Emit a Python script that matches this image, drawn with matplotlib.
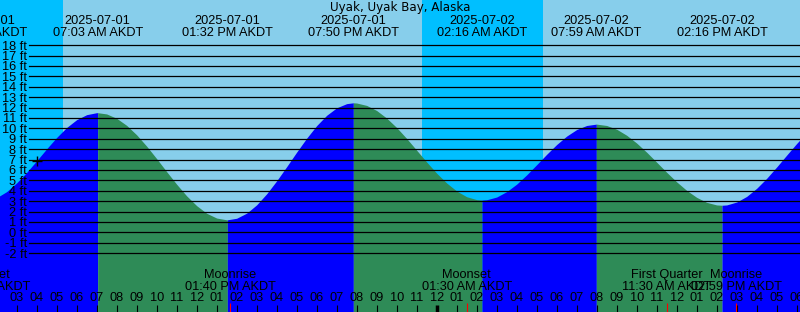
import matplotlib
matplotlib.use('Agg')
import matplotlib.pyplot as plt
import matplotlib.dates as mdates
import matplotlib.transforms as mtransforms
import pandas as pd

station = 'Uyak, Uyak Bay, Alaska'
zone = 'AKDT'

# heights every half hour, 2025-07-01 02:00 .. 2025-07-02 19:00
curve_start = '2025-07-01 02:00'
curve_ft = [3.33, 3.91, 4.75, 5.76, 6.88, 8.03, 9.12, 10.08, 10.83, 11.31,
            11.50, 11.38, 10.96, 10.28, 9.37, 8.28, 7.08, 5.83, 4.62, 3.50,
            2.56, 1.83, 1.37, 1.20, 1.35, 1.84, 2.64, 3.70, 4.95, 6.31,
            7.71, 9.05, 10.26, 11.25, 11.97, 12.37, 12.43, 12.20, 11.71, 10.98,
            10.07, 9.02, 7.89, 6.76, 5.68, 4.74, 3.97, 3.42, 3.14, 3.13,
            3.39, 3.91, 4.63, 5.52, 6.50, 7.50, 8.44, 9.25, 9.88, 10.27,
            10.40, 10.27, 9.91, 9.33, 8.58, 7.70, 6.74, 5.77, 4.85, 4.03,
            3.36, 2.88, 2.63, 2.63, 2.91, 3.45, 4.23, 5.19, 6.28, 7.42,
            8.54, 9.58, 10.46]

# high and low tides
tide_when = ['2025-07-01 01:16', '2025-07-01 07:03', '2025-07-01 13:32',
             '2025-07-01 19:50', '2025-07-02 02:16', '2025-07-02 07:59',
             '2025-07-02 14:16']
tide_ft = [3.0, 11.5, 1.2, 12.45, 3.1, 10.4, 2.6]

sunrise = ['2025-07-01 05:19', '2025-07-02 05:19']
sunset = ['2025-07-01 23:16']

moon_when = ['2025-07-01 01:25', '2025-07-01 13:40', '2025-07-02 01:30',
             '2025-07-02 11:30', '2025-07-02 14:59']
moon_what = ['Moonset', 'Moonrise', 'Moonset', 'First Quarter', 'Moonrise']

now_when, now_ft = '2025-07-01 04:02', 6.9

view_from, view_to = '2025-07-01 02:10', '2025-07-02 18:10'
ft_levels = list(range(-2, 19))

day_sky = '#87CEEB'
night_sky = '#00BFFF'
rising = '#0000FF'
falling = '#2E8B57'

W, H = 800, 312
label_font = ['Liberation Sans', 'DejaVu Sans']
fs = 9.2


def ypx(p):
    # pixel row from the top -> axes fraction
    return 1 - p / H


halfhours = pd.date_range(curve_start, periods=len(curve_ft), freq='30min')
tides = pd.to_datetime(tide_when)
curve = pd.DataFrame({'t': list(halfhours) + list(tides),
                      'ft': curve_ft + tide_ft}).sort_values('t')
curve = curve.drop_duplicates('t').reset_index(drop=True)

t0, t1 = pd.Timestamp(view_from), pd.Timestamp(view_to)

fig = plt.figure(figsize=(W / 100, H / 100), dpi=100)
ax = fig.add_axes([0, 0, 1, 1])
ax.set_facecolor(day_sky)
for s in ax.spines.values():
    s.set_visible(False)

# night bands
night_start = [t0 - pd.Timedelta(hours=6)] + list(pd.to_datetime(sunset))
for a, b in zip(night_start, pd.to_datetime(sunrise)):
    ax.axvspan(a, b, color=night_sky, lw=0, zorder=0)

# water, blue while rising, green while falling
bottom = -12
marks = list(tides) + [curve['t'].iloc[-1]]
for i in range(len(marks) - 1):
    m = (curve['t'] >= marks[i]) & (curve['t'] <= marks[i + 1])
    seg = curve[m]
    col = rising if seg['ft'].iloc[-1] > seg['ft'].iloc[0] else falling
    ax.fill_between(seg['t'], seg['ft'], bottom, color=col, lw=0, zorder=1)

for v in ft_levels:
    ax.axhline(v, xmin=29 / W, color='black', lw=0.9, zorder=2)

ax.plot(pd.Timestamp(now_when), now_ft, marker='+', ms=7, mew=1,
        color='black', zorder=3)

ax.set_axisbelow(False)

# y labels inside the plot
ax.set_yticks(ft_levels)
ax.set_yticklabels([f'{v} ft' for v in ft_levels], family=label_font)
ax.tick_params(axis='y', length=0, pad=-19.5, labelsize=fs)

# hour ticks along the bottom
ticks = pd.date_range('2025-07-01 02:00', '2025-07-02 19:00', freq='h')
ax.set_xticks(ticks)
ax.set_xticklabels([f'{t:%I}' for t in ticks], family=label_font)
ax.set_xticks(pd.to_datetime(moon_when), minor=True)
ax.tick_params(axis='x', which='major', direction='in', length=5, width=0.8,
               color='black', pad=-14.5, labelsize=fs)
ax.tick_params(axis='x', which='minor', direction='in', length=6.5, width=0.8,
               color='red')
for t, tick in zip(ticks, ax.xaxis.get_major_ticks()):
    if t.hour == 0:
        tick.tick1line.set_markeredgewidth(2.5)

# limits last, set_xticks would widen them
ax.set_xlim(t0, t1)
ax.set_ylim((232.3 - H) / 10.4, 232.3 / 10.4)

tr = mtransforms.blended_transform_factory(ax.transData, ax.transAxes)

ax.text(0.5, ypx(7), station, transform=ax.transAxes, ha='center',
        va='center', fontsize=8.6, family='DejaVu Sans')

for t in tides:
    x = mdates.date2num(t)
    ax.text(x, ypx(20.5), f'{t:%Y-%m-%d}', transform=tr, ha='center',
            va='center', fontsize=fs, family=label_font)
    ax.text(x, ypx(32.5), f'{t:%I:%M %p} {zone}', transform=tr, ha='center',
            va='center', fontsize=fs, family=label_font)

for w, what in zip(pd.to_datetime(moon_when), moon_what):
    x = mdates.date2num(w)
    ax.text(x, ypx(275), what, transform=tr, ha='center', va='center',
            fontsize=fs, family=label_font)
    ax.text(x, ypx(286.5), f'{w:%I:%M %p} {zone}', transform=tr,
            ha='center', va='center', fontsize=fs, family=label_font)

fig.savefig('out.png', dpi=100)
